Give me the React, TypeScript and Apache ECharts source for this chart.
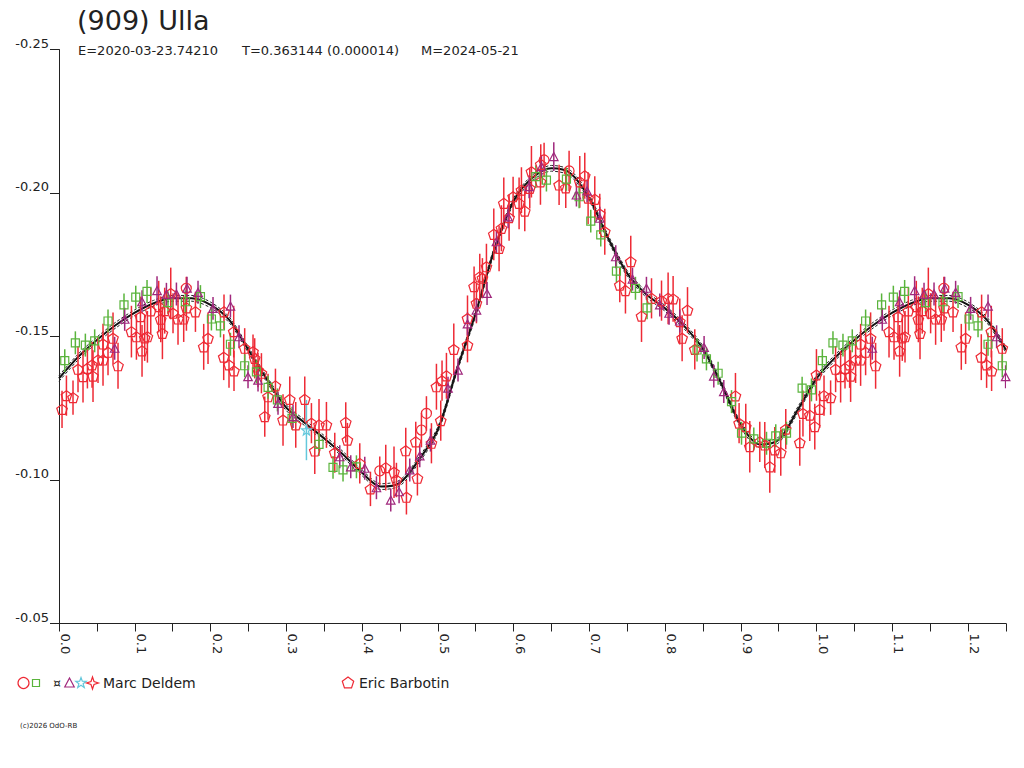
import React, { useEffect, useRef } from "react";
import * as echarts from "echarts";

const TITLE = "(909) Ulla";
const SUBTITLE_PARTS = ["E=2020-03-23.74210", "T=0.363144 (0.000014)", "M=2024-05-21"];
const OBSERVER_A = "Marc Deldem";
const OBSERVER_B = "Eric Barbotin";
const COPYRIGHT = "(c)2026 OdO-RB";

const X_MIN = 0;
const X_MAX = 1.25;
const X_STEP = 0.05;
const Y_MIN = -0.25;
const Y_MAX = -0.05;
const Y_STEP = 0.05;

// Fourier fit (phase 0 .. 0.975), repeated past phase 1
const FIT_PHASE = [
  0, 0.025, 0.05, 0.075, 0.1, 0.125, 0.15, 0.175, 0.2, 0.225,
  0.25, 0.275, 0.3, 0.325, 0.35, 0.375, 0.4, 0.425, 0.45, 0.475,
  0.5, 0.525, 0.55, 0.575, 0.6, 0.625, 0.65, 0.675, 0.7, 0.725,
  0.75, 0.775, 0.8, 0.825, 0.85, 0.875, 0.9, 0.925, 0.95, 0.975,
];
const FIT_MAG = [
  -0.1354, -0.1428, -0.1488, -0.154, -0.1583, -0.1616, -0.1633, -0.1633, -0.161, -0.1557,
  -0.1453, -0.1348, -0.1252, -0.1198, -0.1145, -0.1089, -0.1025, -0.0977, -0.099, -0.107,
  -0.1175, -0.1383, -0.1581, -0.1805, -0.1972, -0.2053, -0.2086, -0.2069, -0.1982, -0.1842,
  -0.172, -0.1647, -0.1598, -0.1537, -0.1457, -0.1331, -0.1192, -0.1124, -0.114, -0.1244,
];
const FIT_SIGMA = 0.001;

// [phase, magnitude, error]
const ERIC_PENTAGONS = [
  [0.004, -0.1246, 0.0065], [0.0098, -0.1294, 0.007], [0.0185, -0.1287, 0.006], [0.0251, -0.1386, 0.008],
  [0.0317, -0.136, 0.009], [0.0375, -0.1389, 0.007], [0.0436, -0.1401, 0.008], [0.0449, -0.1362, 0.009],
  [0.0515, -0.1418, 0.008], [0.0581, -0.1418, 0.009], [0.0581, -0.1474, 0.007], [0.0647, -0.1445, 0.008],
  [0.0713, -0.1494, 0.009], [0.0779, -0.1398, 0.008], [0.0956, -0.1517, 0.009], [0.1022, -0.1499, 0.008],
  [0.1075, -0.1569, 0.007], [0.1096, -0.145, 0.009], [0.1131, -0.1495, 0.008], [0.1167, -0.1499, 0.009],
  [0.1211, -0.1589, 0.008], [0.1316, -0.1604, 0.009], [0.1343, -0.156, 0.008], [0.1365, -0.1511, 0.009],
  [0.1395, -0.159, 0.008], [0.1475, -0.165, 0.009], [0.1505, -0.1581, 0.007], [0.1571, -0.1561, 0.009],
  [0.1646, -0.1561, 0.008], [0.1682, -0.16, 0.008], [0.1801, -0.1586, 0.007], [0.191, -0.1464, 0.008],
  [0.1967, -0.1494, 0.009], [0.2174, -0.1428, 0.008], [0.2178, -0.1586, 0.006], [0.2244, -0.1401, 0.008],
  [0.2306, -0.1517, 0.009], [0.231, -0.138, 0.007], [0.2451, -0.1459, 0.007], [0.2561, -0.1447, 0.006],
  [0.2583, -0.1424, 0.007], [0.2627, -0.1383, 0.006], [0.2672, -0.1372, 0.007], [0.2716, -0.1221, 0.007],
  [0.2759, -0.129, 0.008], [0.2857, -0.1328, 0.006], [0.2957, -0.1209, 0.009], [0.3046, -0.1281, 0.008],
  [0.3125, -0.1192, 0.008], [0.3244, -0.1281, 0.008], [0.3332, -0.1198, 0.007], [0.3376, -0.1101, 0.008],
  [0.3432, -0.1192, 0.009], [0.353, -0.1192, 0.008], [0.364, -0.1095, 0.007], [0.3785, -0.1201, 0.007],
  [0.3807, -0.1139, 0.006], [0.397, -0.1058, 0.007], [0.4111, -0.0969, 0.006], [0.4313, -0.1043, 0.008],
  [0.4422, -0.1027, 0.009], [0.4454, -0.1, 0.006], [0.4577, -0.1102, 0.008], [0.4586, -0.094, 0.006],
  [0.4709, -0.1133, 0.007], [0.4731, -0.1006, 0.006], [0.4916, -0.1128, 0.007], [0.4982, -0.1325, 0.008],
  [0.5039, -0.1207, 0.007], [0.5056, -0.1346, 0.007], [0.5114, -0.1363, 0.008], [0.5211, -0.1455, 0.009],
  [0.5392, -0.147, 0.006], [0.5392, -0.1563, 0.008], [0.5479, -0.1674, 0.007], [0.551, -0.1616, 0.007],
  [0.5554, -0.1708, 0.008], [0.5642, -0.1743, 0.008], [0.5589, -0.1703, 0.007], [0.5739, -0.1856, 0.009],
  [0.5809, -0.1807, 0.008], [0.584, -0.1877, 0.008], [0.5871, -0.1964, 0.009], [0.5941, -0.1914, 0.008],
  [0.5994, -0.1987, 0.007], [0.6073, -0.1964, 0.009], [0.6104, -0.201, 0.008], [0.6148, -0.1937, 0.007],
  [0.6214, -0.2016, 0.007], [0.6236, -0.2074, 0.009], [0.6355, -0.2039, 0.008], [0.6359, -0.21, 0.007],
  [0.6601, -0.2028, 0.007], [0.6689, -0.2018, 0.007], [0.6874, -0.2039, 0.009], [0.694, -0.206, 0.008],
  [0.6984, -0.1982, 0.009], [0.7072, -0.1978, 0.008], [0.7138, -0.1927, 0.007], [0.7204, -0.1865, 0.008],
  [0.7402, -0.1679, 0.006], [0.7477, -0.166, 0.008], [0.7547, -0.1761, 0.009], [0.7689, -0.1571, 0.009],
  [0.7821, -0.1633, 0.007], [0.7953, -0.1625, 0.007], [0.804, -0.1633, 0.009], [0.8106, -0.1631, 0.008],
  [0.8194, -0.1552, 0.008], [0.8225, -0.1494, 0.008], [0.8296, -0.1592, 0.008], [0.8392, -0.1455, 0.007],
  [0.8929, -0.1293, 0.008], [0.8977, -0.1198, 0.007], [0.9065, -0.1186, 0.008], [0.9118, -0.1116, 0.009],
  [0.925, -0.1133, 0.007], [0.9316, -0.1122, 0.008], [0.9382, -0.1046, 0.009], [0.9448, -0.1105, 0.008],
  [0.9527, -0.1095, 0.008], [0.9593, -0.1177, 0.007], [0.9778, -0.113, 0.008], [0.982, -0.1232, 0.008],
  [0.991, -0.1226, 0.009], [0.9976, -0.1186, 0.008], [0.9998, -0.1366, 0.009],
];

const MARC_CIRCLES = [
  [0.168, -0.1668, 0.004], [0.4234, -0.1032, 0.005], [0.4784, -0.1174, 0.006],
  [0.485, -0.1232, 0.006], [0.6403, -0.2115, 0.006], [0.6733, -0.2077, 0.007],
];

const MARC_SQUARES = [
  [0.0076, -0.1416, 0.004], [0.0216, -0.1478, 0.004], [0.0348, -0.147, 0.004], [0.0471, -0.1485, 0.004],
  [0.0647, -0.1554, 0.004], [0.0858, -0.161, 0.004], [0.1013, -0.1637, 0.004], [0.1162, -0.1657, 0.004],
  [0.1439, -0.1618, 0.004], [0.1668, -0.1621, 0.004], [0.1867, -0.1639, 0.004], [0.2012, -0.1561, 0.004],
  [0.2131, -0.1537, 0.004], [0.2263, -0.1473, 0.004], [0.2451, -0.1398, 0.004], [0.2606, -0.1377, 0.004],
  [0.276, -0.1323, 0.004], [0.2883, -0.1279, 0.004], [0.3076, -0.1215, 0.004], [0.3432, -0.1124, 0.004],
  [0.3617, -0.1044, 0.004], [0.3749, -0.1035, 0.004], [0.3926, -0.1046, 0.004], [0.6294, -0.2057, 0.004],
  [0.6434, -0.2045, 0.004], [0.6698, -0.2048, 0.004], [0.6865, -0.1987, 0.004], [0.7019, -0.1902, 0.004],
  [0.7151, -0.1854, 0.004], [0.7358, -0.1728, 0.004], [0.7609, -0.1668, 0.004], [0.7762, -0.16, 0.004],
  [0.8422, -0.1453, 0.004], [0.8546, -0.1422, 0.004], [0.87, -0.1372, 0.004], [0.8877, -0.1273, 0.004],
  [0.9009, -0.1163, 0.004], [0.9171, -0.1143, 0.004], [0.9339, -0.1128, 0.004], [0.9461, -0.1154, 0.004],
  [0.9603, -0.1163, 0.004], [0.9809, -0.132, 0.004], [0.9932, -0.1314, 0.004],
];

const MARC_TRIANGLES = [
  [0.0735, -0.1459, 0.004], [0.0867, -0.156, 0.004], [0.1096, -0.1621, 0.004], [0.1294, -0.166, 0.005],
  [0.1418, -0.1647, 0.004], [0.155, -0.1648, 0.004], [0.169, -0.1668, 0.004], [0.1835, -0.1654, 0.004],
  [0.2033, -0.1598, 0.004], [0.2263, -0.1606, 0.004], [0.2376, -0.1499, 0.004], [0.2495, -0.136, 0.004],
  [0.2627, -0.1348, 0.004], [0.2891, -0.1267, 0.004], [0.3089, -0.1221, 0.004], [0.3706, -0.1081, 0.004],
  [0.3851, -0.1046, 0.004], [0.4036, -0.1041, 0.004], [0.419, -0.0973, 0.004], [0.4379, -0.093, 0.004],
  [0.4489, -0.0959, 0.004], [0.463, -0.1035, 0.004], [0.4762, -0.1084, 0.004], [0.4903, -0.1139, 0.004],
  [0.5135, -0.132, 0.004], [0.5267, -0.1383, 0.004], [0.5392, -0.1544, 0.004], [0.551, -0.1592, 0.004],
  [0.565, -0.165, 0.004], [0.5774, -0.183, 0.004], [0.5928, -0.1917, 0.004], [0.6205, -0.2022, 0.004],
  [0.6368, -0.2092, 0.004], [0.6531, -0.2127, 0.005], [0.683, -0.1993, 0.004], [0.697, -0.2007, 0.004],
  [0.7138, -0.1912, 0.004], [0.7349, -0.1778, 0.004], [0.757, -0.17, 0.004], [0.7754, -0.1668, 0.004],
  [0.793, -0.161, 0.004], [0.8053, -0.1581, 0.004], [0.8194, -0.1554, 0.004], [0.8515, -0.1462, 0.004],
  [0.8643, -0.1362, 0.004], [0.8775, -0.1308, 0.004],
];

const MARC_STARS = [[0.3266, -0.1174, 0.0105]];

const RED = "#ee2a35";
const GREEN = "#5ab43c";
const PURPLE = "#a0287d";
const CYAN = "#64c8dc";
const INK = "#222222";
const FONT = "DejaVu Sans";

const PENTAGON_PATH = "path://M0,-10L9.511,-3.09L5.878,8.09L-5.878,8.09L-9.511,-3.09Z";
const STAR_PATH =
  "path://M0,-10L2.351,-3.236L9.511,-3.09L3.804,1.236L5.878,8.09L0,4L-5.878,8.09L-3.804,1.236L-9.511,-3.09L-2.351,-3.236Z";

// points of phase < 0.25 are drawn again one cycle later, as in the original plot
function withWrap(rows: number[][]) {
  const extra = rows.filter((r) => r[0] + 1 <= X_MAX + 1e-9).map((r) => [r[0] + 1, ...r.slice(1)]);
  return rows.concat(extra);
}

function shapePoints(unit: number[][], cx: number, cy: number, s: number) {
  return unit.map(([x, y]) => [cx + x * s, cy + y * s]);
}
const UNIT_PENTAGON = [[0, -1], [0.9511, -0.309], [0.5878, 0.809], [-0.5878, 0.809], [-0.9511, -0.309]];
const UNIT_STAR = [
  [0, -1], [0.2351, -0.3236], [0.9511, -0.309], [0.3804, 0.1236], [0.5878, 0.809], [0, 0.4],
  [-0.5878, 0.809], [-0.3804, 0.1236], [-0.9511, -0.309], [-0.2351, -0.3236],
];
const UNIT_STAR4 = [[0, -1], [0.25, -0.25], [1, 0], [0.25, 0.25], [0, 1], [-0.25, 0.25], [-1, 0], [-0.25, -0.25]];
const UNIT_TRIANGLE = [[0, -1], [0.95, 0.8], [-0.95, 0.8]];

function errorSeries(rows: number[][], color: string, z: number) {
  return {
    type: "custom",
    data: rows,
    z,
    silent: true,
    clip: true,
    encode: { x: 0, y: 1 },
    renderItem: (params: any, api: any) => {
      const x = api.value(0);
      const y = api.value(1);
      const e = api.value(2);
      const a = api.coord([x, y - e]);
      const b = api.coord([x, y + e]);
      return {
        type: "line",
        shape: { x1: a[0], y1: a[1], x2: b[0], y2: b[1] },
        style: { stroke: color, lineWidth: 1.5 },
      };
    },
  };
}

function markerSeries(rows: number[][], color: string, symbol: string, size: any, z: number) {
  return {
    type: "scatter",
    data: rows.map((r) => [r[0], r[1]]),
    symbol,
    symbolSize: size,
    z,
    silent: true,
    itemStyle: { color: "rgba(0,0,0,0)", borderColor: color, borderWidth: 1.2, opacity: 1 },
  };
}

export default function App() {
  const ref = useRef<HTMLDivElement>(null);

  useEffect(() => {
    if (!ref.current) return;
    const chart = echarts.init(ref.current, undefined, { renderer: "svg" });

    const pent = withWrap(ERIC_PENTAGONS);
    const circ = withWrap(MARC_CIRCLES);
    const sq = withWrap(MARC_SQUARES);
    const tri = withWrap(MARC_TRIANGLES);
    const stars = withWrap(MARC_STARS);

    const fit = withWrap(FIT_PHASE.map((p, i) => [p, FIT_MAG[i]]));
    const fitHi = fit.map((r) => [r[0], r[1] - FIT_SIGMA]);
    const fitLo = fit.map((r) => [r[0], r[1] + FIT_SIGMA]);

    const legendY = 683;
    const graphic: any[] = [
      {
        type: "text",
        x: 77,
        y: 20,
        style: { text: TITLE, font: `27px "${FONT}"`, fill: INK, verticalAlign: "middle", align: "left" },
      },
      ...SUBTITLE_PARTS.map((t, i) => ({
        type: "text",
        x: [78, 242, 421][i],
        y: 50,
        style: { text: t, font: `13px "${FONT}"`, fill: INK, verticalAlign: "middle", align: "left" },
      })),
      {
        type: "circle",
        shape: { cx: 23.5, cy: legendY, r: 5.5 },
        style: { fill: "none", stroke: RED, lineWidth: 1.2 },
      },
      {
        type: "rect",
        shape: { x: 32.5, y: legendY - 3.5, width: 7, height: 7 },
        style: { fill: "none", stroke: GREEN, lineWidth: 1.2 },
      },
      {
        type: "text",
        x: 57,
        y: legendY,
        style: { text: "¤", font: `12px "${FONT}"`, fill: INK, align: "center", verticalAlign: "middle" },
      },
      {
        type: "polygon",
        shape: { points: shapePoints(UNIT_TRIANGLE, 69.5, legendY, 5) },
        style: { fill: "none", stroke: PURPLE, lineWidth: 1.2 },
      },
      {
        type: "polygon",
        shape: { points: shapePoints(UNIT_STAR, 81, legendY, 5.5) },
        style: { fill: "none", stroke: CYAN, lineWidth: 1.2 },
      },
      {
        type: "polygon",
        shape: { points: shapePoints(UNIT_STAR4, 92.5, legendY, 6) },
        style: { fill: "none", stroke: RED, lineWidth: 1.2 },
      },
      {
        type: "text",
        x: 103,
        y: legendY,
        style: { text: OBSERVER_A, font: `14px "${FONT}"`, fill: INK, verticalAlign: "middle", align: "left" },
      },
      {
        type: "polygon",
        shape: { points: shapePoints(UNIT_PENTAGON, 348, legendY, 6) },
        style: { fill: "none", stroke: RED, lineWidth: 1.2 },
      },
      {
        type: "text",
        x: 359,
        y: legendY,
        style: { text: OBSERVER_B, font: `14px "${FONT}"`, fill: INK, verticalAlign: "middle", align: "left" },
      },
      {
        type: "text",
        x: 20,
        y: 725.5,
        style: { text: COPYRIGHT, font: `7px "${FONT}"`, fill: INK, verticalAlign: "middle", align: "left" },
      },
    ];

    chart.setOption({
      animation: false,
      backgroundColor: "#ffffff",
      grid: { left: 59, top: 49.5, right: 18, bottom: 144.5, containLabel: false, outerBoundsMode: "none" },
      xAxis: {
        type: "value",
        min: X_MIN,
        max: X_MAX,
        interval: X_STEP,
        axisLine: { show: true, lineStyle: { color: INK, width: 1 } },
        axisTick: { show: true, length: 8, lineStyle: { color: INK, width: 1 } },
        splitLine: { show: false },
        axisLabel: {
          rotate: -90,
          margin: 10,
          verticalAlign: "bottom",
          color: INK,
          fontFamily: FONT,
          fontSize: 13,
          formatter: (v: number) => (Math.round(v * 100) % 10 === 0 ? v.toFixed(1) : ""),
        },
      },
      yAxis: {
        type: "value",
        inverse: true,
        min: Y_MIN,
        max: Y_MAX,
        interval: Y_STEP,
        axisLine: { show: true, lineStyle: { color: INK, width: 1 } },
        axisTick: { show: true, length: 9, lineStyle: { color: INK, width: 1 } },
        splitLine: { show: false },
        axisLabel: {
          margin: 10,
          verticalAlign: "bottom",
          color: INK,
          fontFamily: FONT,
          fontSize: 13,
          formatter: (v: number) => v.toFixed(2),
        },
      },
      graphic,
      series: [
        {
          type: "line",
          data: fit,
          showSymbol: false,
          smooth: 0.3,
          silent: true,
          z: 1,
          lineStyle: { color: "#111111", width: 2 },
        },
        {
          type: "line",
          data: fitHi,
          showSymbol: false,
          smooth: 0.3,
          silent: true,
          z: 1,
          lineStyle: { color: "#222222", width: 1, type: [3, 2] },
        },
        {
          type: "line",
          data: fitLo,
          showSymbol: false,
          smooth: 0.3,
          silent: true,
          z: 1,
          lineStyle: { color: "#222222", width: 1, type: [3, 2] },
        },
        errorSeries(pent, RED, 2),
        errorSeries(circ, RED, 2),
        errorSeries(sq, GREEN, 2),
        errorSeries(tri, PURPLE, 2),
        errorSeries(stars, CYAN, 2),
        markerSeries(pent, RED, PENTAGON_PATH, [10.5, 10], 3),
        markerSeries(circ, RED, "circle", 10, 3),
        markerSeries(sq, GREEN, "rect", 8, 3),
        markerSeries(tri, PURPLE, "triangle", [8.5, 8], 3),
        markerSeries(stars, CYAN, STAR_PATH, 10, 3),
      ],
    });

    return () => chart.dispose();
  }, []);

  return (
    <div
      ref={ref}
      style={{ position: "absolute", left: 0, top: 0, width: 1024, height: 768, background: "#fff" }}
    />
  );
}
